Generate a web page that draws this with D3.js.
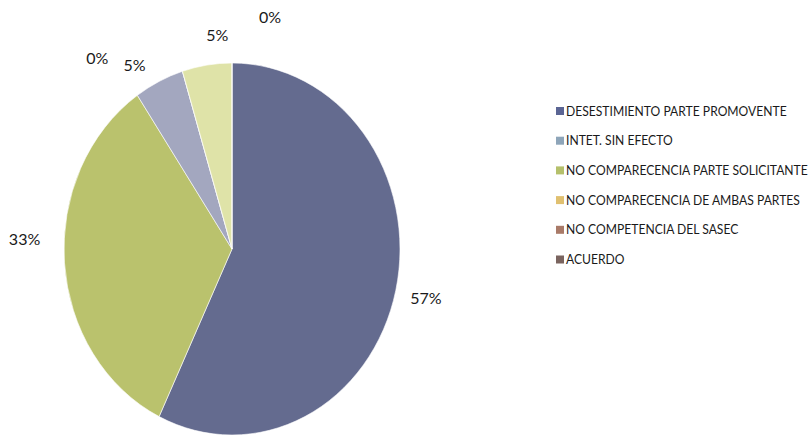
<!DOCTYPE html>
<html>
<head>
<meta charset="utf-8">
<script src="https://cdn.jsdelivr.net/npm/d3@7"></script>
<style>
  body { margin: 0; background: #fff; }
  svg { display: block; font-family: "Lato", "Liberation Sans", sans-serif; }
</style>
</head>
<body>
<div class="chart"></div>
<script>
// categories as in the legend
var categories = [
  'DESESTIMIENTO PARTE PROMOVENTE',
  'INTET. SIN EFECTO',
  'NO COMPARECENCIA PARTE SOLICITANTE',
  'NO COMPARECENCIA DE AMBAS PARTES',
  'NO COMPETENCIA DEL SASEC',
  'ACUERDO'
];
var values = [12, 1, 7, 1, 0, 0];
var legendColors = ['#5b6594', '#8ea5b9', '#b5c06b', '#e0c070', '#a97a68', '#7a645f'];
var sliceColors = ['#646b8f', '#a3a7bf', '#bac26d', '#dfe3a8', '#b08a7a', '#8a7570'];
// order the slices are drawn in, clockwise from 12 o'clock
var sliceOrder = [0, 2, 1, 4, 3, 5];

var fullWidth = 812, fullHeight = 436;
var cx = 232, cy = 249, rx = 168, ry = 186;
var stretch = ry / rx;
// small hand nudges for label placement (dx, dy), by drawn slice
var labelNudge = [[0, 2], [-9, -25], [-11, 7], [-76, 12], [15, -4], [38, -20]];

var svg = d3.select('.chart').append('svg')
  .attr('width', fullWidth)
  .attr('height', fullHeight);

var total = d3.sum(values);
var data = sliceOrder.map(function(i) {
  return { name: categories[i], value: values[i], color: sliceColors[i] };
});

var pie = d3.pie()
  .sort(null)
  .value(function(d) { return d.value; });
var arcs = pie(data);

var arc = d3.arc().innerRadius(0).outerRadius(rx);

var pieG = svg.append('g')
  .attr('transform', 'translate(' + cx + ',' + cy + ') scale(1,' + stretch + ')');

pieG.selectAll('path.slice')
    .data(arcs)
  .enter().append('path')
    .classed('slice', true)
    .attr('d', arc)
    .attr('fill', function(d) { return d.data.color; })
    .attr('stroke', '#fff')
    .attr('stroke-width', 0.6)
    .attr('vector-effect', 'non-scaling-stroke');

// percentage labels
var labelR = rx + 14;
var labels = svg.append('g').classed('labels', true);
arcs.forEach(function(d, i) {
  var a = (d.startAngle + d.endAngle) / 2;
  var s = Math.sin(a), c = -Math.cos(a);
  var x = cx + labelR * s + s * 17 + labelNudge[i][0];
  var y = cy + labelR * c * stretch + c * 10 + labelNudge[i][1];
  var pct = Math.round(d.value / total * 100);
  labels.append('text')
    .attr('x', x)
    .attr('y', y)
    .attr('dy', '0.35em')
    .attr('text-anchor', 'middle')
    .attr('font-size', 16)
    .attr('fill', '#1a1a1a')
    .text(pct + '%');
});

// legend
var legend = svg.append('g')
  .attr('transform', 'translate(556,111)');
var rows = legend.selectAll('g.row')
    .data(categories)
  .enter().append('g')
    .classed('row', true)
    .attr('transform', function(d, i) { return 'translate(0,' + (i * 29.7) + ')'; });
rows.append('rect')
  .attr('x', 0).attr('y', -4)
  .attr('width', 8).attr('height', 8)
  .attr('fill', function(d, i) { return legendColors[i]; });
var texts = rows.append('g')
  .attr('transform', 'translate(10,0)')
  .append('text')
  .attr('dy', '0.36em')
  .attr('font-size', 13)
  .attr('fill', '#1a1a1a')
  .text(function(d) { return d; });

// squeeze the legend text a bit so the longest label fits like the original
var maxW = d3.max(texts.nodes(), function(n) { return n.getComputedTextLength(); });
var k = Math.min(1, 242 / maxW);
rows.selectAll('g').attr('transform', 'translate(10,0) scale(' + k + ',1)');
</script>
</body>
</html>
